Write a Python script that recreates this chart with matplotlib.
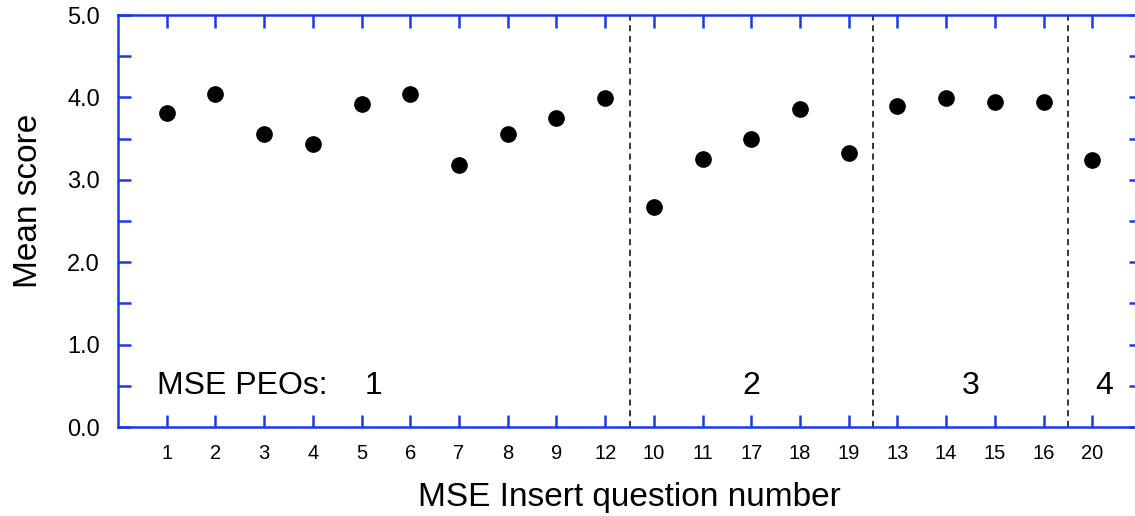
import matplotlib.pyplot as plt
import numpy as np

plt.rcParams['font.family'] = ['Liberation Sans', 'DejaVu Sans']

# question numbers in plotted order, grouped by PEO
questions = ['1', '2', '3', '4', '5', '6', '7', '8', '9', '12',
             '10', '11', '17', '18', '19',
             '13', '14', '15', '16',
             '20']
mean_scores = [3.81, 4.04, 3.56, 3.43, 3.92, 4.04, 3.18, 3.56, 3.75, 3.99,
               2.67, 3.25, 3.50, 3.86, 3.33,
               3.89, 3.99, 3.94, 3.94,
               3.24]
group_labels = ['1', '2', '3', '4']
group_sizes = [10, 5, 4, 1]

blue = '#1a3ae6'

fig = plt.figure(figsize=(11.35, 5.16), dpi=100)
ax = fig.add_axes([118 / 1135, 89 / 516, (1141 - 118) / 1135, (427 - 15) / 516])

pos = np.arange(1, len(questions) + 1)
ax.plot(pos, mean_scores, 'o', color='black', markersize=11, zorder=3)

# dashed separators between groups
edges = np.cumsum(group_sizes)
for e in edges[:-1]:
    ax.axvline(e + 0.5, color='black', linestyle=(0, (4, 3)), linewidth=1.1)

# group labels, centred between separators
bounds = np.concatenate([[0], edges[:-1] + 0.5, [len(questions) + 1]])
ax.text(0.8, 0.5, 'MSE PEOs:', fontsize=23, va='center', ha='left')
for i, lab in enumerate(group_labels):
    ax.text((bounds[i] + bounds[i + 1]) / 2, 0.5, lab, fontsize=23,
            va='center', ha='center')

ax.set_xlim(0, len(questions) + 1)
ax.set_ylim(0, 5)
ax.set_xticks(pos)
ax.set_xticklabels(questions, fontsize=14.5)
yt = np.arange(0, 5.01, 1.0)
ax.set_yticks(yt)
ax.set_yticklabels(['%.1f' % v for v in yt], fontsize=17)
ax.set_yticks(np.arange(0.5, 5, 1.0), minor=True)

ax.tick_params(axis='both', which='both', direction='in', color=blue,
               top=True, right=True, width=1.8)
ax.tick_params(axis='both', which='major', length=9)
ax.tick_params(axis='y', which='minor', length=9)
ax.tick_params(axis='x', pad=12)
ax.tick_params(axis='y', pad=13)
for sp in ax.spines.values():
    sp.set_color(blue)
    sp.set_linewidth(1.8)

ax.set_xlabel('MSE Insert question number', fontsize=24, labelpad=14)
ax.set_ylabel('Mean score', fontsize=24)
ax.yaxis.set_label_coords(-74 / 1023, 0.55)

fig.savefig('out.png', dpi=100)
